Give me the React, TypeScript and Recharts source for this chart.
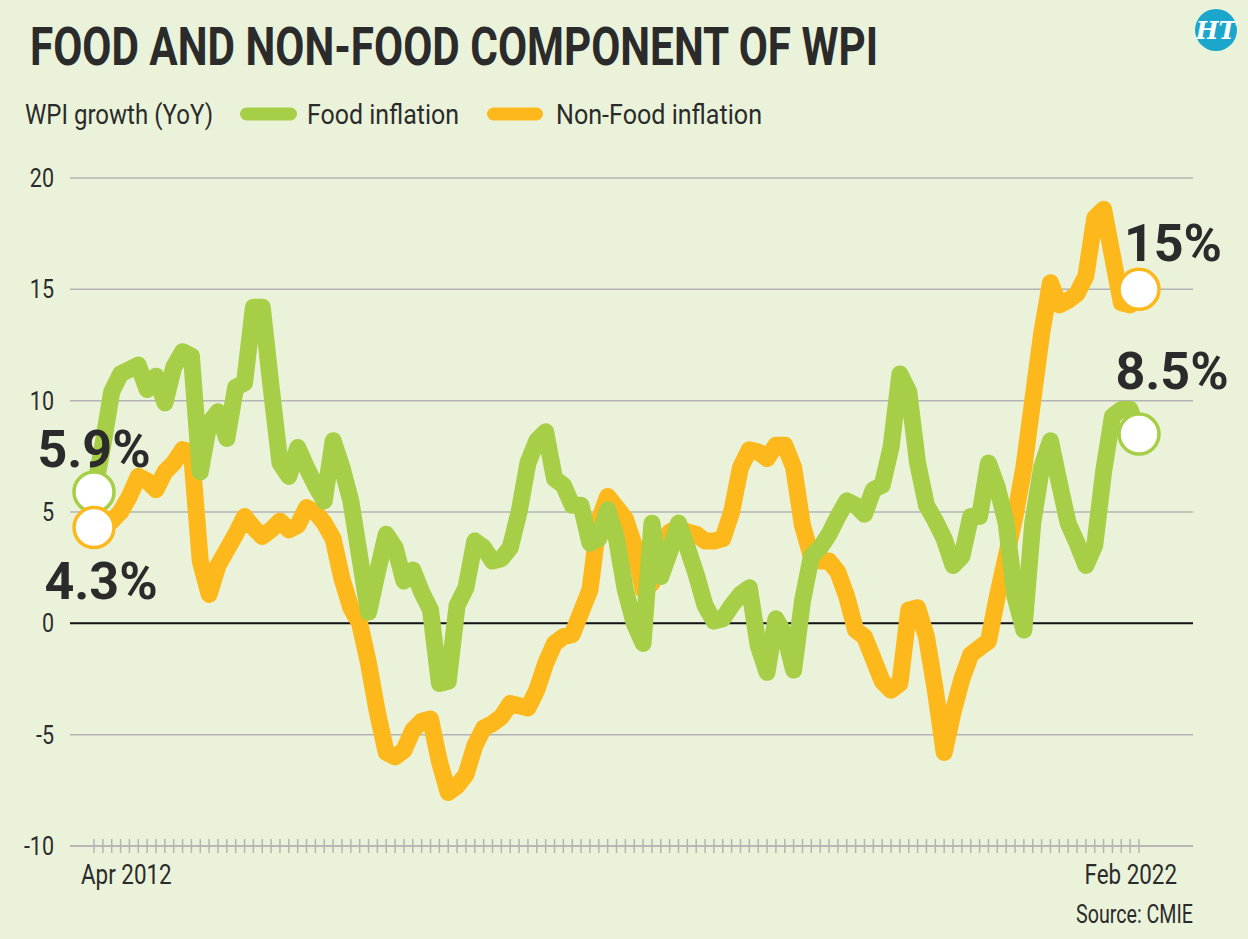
import { CartesianGrid, Line, LineChart, ReferenceLine, XAxis, YAxis } from "recharts"

const GREEN = "#a6ce46"
const ORANGE = "#fdb81b"
const BG = "#eaf3da"
const INK = "#2b2b2b"
const GRID = "#b4b4b4"
const FONT = "Roboto, 'Noto Sans', sans-serif"

// monthly, Apr 2012 .. Feb 2022
const MONTH_NAMES = ["Jan", "Feb", "Mar", "Apr", "May", "Jun", "Jul", "Aug", "Sep", "Oct", "Nov", "Dec"]
const months = Array.from({ length: 119 }, (_, i) => {
	const m = 3 + i
	return `${MONTH_NAMES[m % 12]} ${2012 + Math.floor(m / 12)}`
})

const food = [
	5.9, 8.0, 10.4, 11.2, 11.4, 11.6, 10.5, 11.1, 9.9, 11.5, 12.2, 12.0,
	6.8, 9.0, 9.5, 8.3, 10.6, 10.8, 14.2, 14.2, 10.6, 7.2, 6.6, 7.9,
	7.0, 6.2, 5.5, 8.2, 7.0, 5.5, 3.0, 0.5, 2.3, 4.0, 3.4, 1.9,
	2.4, 1.4, 0.6, -2.7, -2.6, 0.8, 1.6, 3.7, 3.4, 2.8, 2.9, 3.4,
	5.0, 7.2, 8.2, 8.6, 6.5, 6.2, 5.3, 5.3, 3.6, 3.8, 5.1, 3.8,
	1.5, 0.0, -0.9, 4.5, 2.1, 3.2, 4.5, 3.4, 2.2, 0.8, 0.1, 0.2,
	0.8, 1.3, 1.6, -1.0, -2.2, 0.2, -0.5, -2.1, 1.0, 3.0, 3.4, 4.0,
	4.8, 5.5, 5.3, 4.9, 6.0, 6.2, 7.9, 11.2, 10.4, 7.2, 5.3, 4.6,
	3.8, 2.6, 3.0, 4.8, 4.8, 7.2, 6.1, 4.5, 1.2, -0.3, 4.5, 7.0,
	8.2, 6.3, 4.5, 3.6, 2.6, 3.5, 6.8, 9.3, 9.6, 9.6, 8.5,
]

const nonFood = [
	4.3, 4.3, 4.6, 5.0, 5.7, 6.6, 6.4, 6.0, 6.8, 7.2, 7.8, 7.7,
	2.8, 1.3, 2.6, 3.3, 4.0, 4.8, 4.3, 3.9, 4.2, 4.6, 4.2, 4.4,
	5.2, 5.0, 4.5, 3.8, 2.0, 0.7, 0.0, -1.8, -4.0, -5.8, -6.0, -5.7,
	-4.8, -4.4, -4.3, -6.2, -7.6, -7.3, -6.8, -5.5, -4.7, -4.5, -4.2, -3.6,
	-3.7, -3.8, -3.0, -1.8, -0.9, -0.6, -0.5, 0.5, 1.5, 4.6, 5.7, 5.2,
	4.7, 3.5, 1.5, 1.8, 3.0, 4.1, 4.3, 4.1, 4.0, 3.7, 3.7, 3.8,
	5.0, 7.0, 7.8, 7.7, 7.4, 8.0, 8.0, 7.0, 4.4, 3.0, 2.8, 2.8,
	2.3, 1.2, -0.3, -0.6, -1.6, -2.6, -3.0, -2.7, 0.6, 0.7, -0.6, -3.0,
	-5.8, -4.0, -2.5, -1.4, -1.1, -0.8, 1.2, 3.0, 4.8, 7.0, 10.0, 13.0,
	15.3, 14.3, 14.5, 14.8, 15.6, 18.2, 18.6, 16.5, 14.4, 14.3, 15.0,
]

const yTicks = [-10, -5, 0, 5, 10, 15, 20]
const axisLabels = ["Apr 2012", "Feb 2022"]
const seriesNames = ["Food inflation", "Non-Food inflation"]
const foodEndLabels = ["5.9%", "8.5%"]
const nonFoodEndLabels = ["4.3%", "15%"]

const data = months.map((month, i) => ({ i, month, food: food[i], nonFood: nonFood[i] }))
const xTicks = data.map((d) => d.i)
const last = data.length - 1

// where the big value labels sit relative to their end circles
const foodLabelPos = [
	{ dx: 0, dy: -25 },
	{ dx: 33, dy: -45 },
]
const nonFoodLabelPos = [
	{ dx: 7, dy: 71 },
	{ dx: 34, dy: -28 },
]

function makeEndDot(color: string, labels: string[], pos: { dx: number; dy: number }[]) {
	return (props: any) => {
		const { cx, cy, index } = props
		if (index !== 0 && index !== last) return <g key={`d-${index}`} />
		const k = index === 0 ? 0 : 1
		return (
			<g key={`d-${index}`}>
				<circle cx={cx} cy={cy} r={20} fill="#fff" stroke={color} strokeWidth={3.5} />
				<text
					x={cx + pos[k].dx}
					y={cy + pos[k].dy}
					textAnchor="middle"
					fontFamily={FONT}
					fontWeight={700}
					fontSize={52}
					fill={INK}
				>
					{labels[k]}
				</text>
			</g>
		)
	}
}

function YTick({ x, y, payload }: any) {
	return (
		<text
			transform={`translate(${x} ${y}) scale(0.86 1)`}
			dy={9}
			textAnchor="end"
			fontFamily={FONT}
			fontSize={25}
			fill={INK}
		>
			{payload.value}
		</text>
	)
}

function XTick({ x, y, payload }: any) {
	const i = payload.value
	return (
		<g>
			<line x1={x} x2={x} y1={y - 7} y2={y + 7} stroke={GRID} strokeWidth={1.5} />
			{i === 0 && (
				<text
					transform={`translate(${x - 13} ${y + 38}) scale(0.8 1)`}
					textAnchor="start"
					fontFamily={FONT}
					fontSize={28}
					fill={INK}
				>
					{axisLabels[0]}
				</text>
			)}
			{i === last && (
				<text
					transform={`translate(${x + 38} ${y + 38}) scale(0.8 1)`}
					textAnchor="end"
					fontFamily={FONT}
					fontSize={28}
					fill={INK}
				>
					{axisLabels[1]}
				</text>
			)}
		</g>
	)
}

function Header() {
	return (
		<svg width={1248} height={939} style={{ position: "absolute", left: 0, top: 0, pointerEvents: "none" }}>
			<text
				x={30}
				y={65}
				fontFamily={FONT}
				fontWeight={700}
				fontSize={53}
				fill={INK}
				textLength={848}
				lengthAdjust="spacingAndGlyphs"
			>
				FOOD AND NON-FOOD COMPONENT OF WPI
			</text>
			<circle cx={1216} cy={30} r={21} fill="#1ba6cb" />
			<text
				x={1216}
				y={39}
				textAnchor="middle"
				fontFamily="'DejaVu Serif', serif"
				fontStyle="italic"
				fontWeight={700}
				fontSize={24}
				fill="#fff"
			>
				HT
			</text>

			<text x={25} y={124} fontFamily={FONT} fontSize={28} fill={INK} textLength={188} lengthAdjust="spacingAndGlyphs">
				WPI growth (YoY)
			</text>
			<rect x={240} y={107.5} width={57} height={13} rx={6.5} fill={GREEN} />
			<text x={307} y={124} fontFamily={FONT} fontSize={28} fill={INK} textLength={152} lengthAdjust="spacingAndGlyphs">
				{seriesNames[0]}
			</text>
			<rect x={487} y={107.5} width={56} height={13} rx={6.5} fill={ORANGE} />
			<text x={556} y={124} fontFamily={FONT} fontSize={28} fill={INK} textLength={206} lengthAdjust="spacingAndGlyphs">
				{seriesNames[1]}
			</text>

			<text
				x={1193}
				y={923}
				textAnchor="end"
				fontFamily={FONT}
				fontSize={25}
				fill={INK}
				textLength={117}
				lengthAdjust="spacingAndGlyphs"
			>
				Source: CMIE
			</text>
		</svg>
	)
}

export default function App() {
	return (
		<div style={{ position: "absolute", left: 0, top: 0, width: 1248, height: 939, background: BG, overflow: "hidden" }}>
			<LineChart width={1248} height={939} data={data} margin={{ top: 178, right: 55, bottom: 53, left: 0 }}>
				<CartesianGrid vertical={false} stroke={GRID} strokeWidth={1.5} />
				<XAxis
					dataKey="i"
					type="number"
					domain={[0, last]}
					ticks={xTicks}
					interval={0}
					padding={{ left: 24, right: 54 }}
					height={40}
					tickSize={0}
					tickMargin={0}
					tickLine={false}
					axisLine={{ stroke: GRID, strokeWidth: 1.5 }}
					tick={<XTick />}
				/>
				<YAxis
					type="number"
					domain={[-10, 20]}
					ticks={yTicks}
					width={70}
					tickSize={0}
					tickMargin={16}
					tickLine={false}
					axisLine={false}
					tick={<YTick />}
				/>
				<ReferenceLine y={0} stroke="#141414" strokeWidth={2} />
				<Line
					dataKey="nonFood"
					name={seriesNames[1]}
					type="linear"
					stroke={ORANGE}
					strokeWidth={17}
					strokeLinejoin="round"
					strokeLinecap="round"
					dot={false}
					activeDot={false}
					isAnimationActive={false}
				/>
				<Line
					dataKey="food"
					name={seriesNames[0]}
					type="linear"
					stroke={GREEN}
					strokeWidth={17}
					strokeLinejoin="round"
					strokeLinecap="round"
					dot={false}
					activeDot={false}
					isAnimationActive={false}
				/>
				<Line
					dataKey="food"
					stroke="none"
					legendType="none"
					dot={makeEndDot(GREEN, foodEndLabels, foodLabelPos)}
					activeDot={false}
					isAnimationActive={false}
				/>
				<Line
					dataKey="nonFood"
					stroke="none"
					legendType="none"
					dot={makeEndDot(ORANGE, nonFoodEndLabels, nonFoodLabelPos)}
					activeDot={false}
					isAnimationActive={false}
				/>
			</LineChart>
			<Header />
		</div>
	)
}
